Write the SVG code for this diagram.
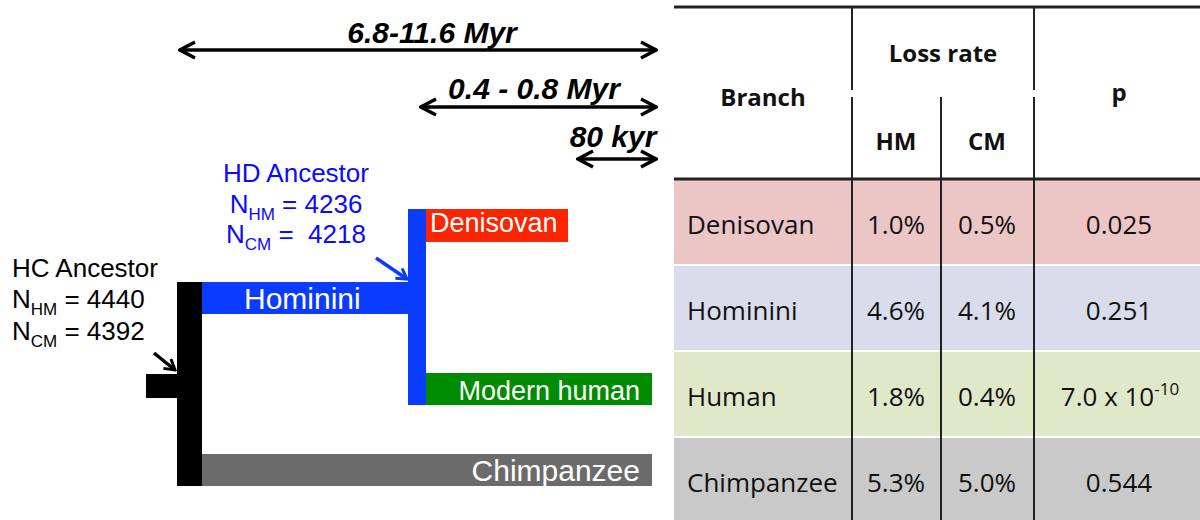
<svg xmlns="http://www.w3.org/2000/svg" width="1200" height="520" viewBox="0 0 1200 520">
<style>
.lbl{font-family:"Liberation Sans",Arial,sans-serif;}
.anc{font-size:26px;fill:#000;}
.hd{font-size:26px;fill:#0a0aff;}
.bar{font-size:27px;fill:#fff;}
.bar30{font-size:30px;fill:#fff;}
.time{font-size:30px;font-weight:bold;font-style:italic;fill:#000;}
.tbl{font-family:"Open Sans",Calibri,sans-serif;fill:#111;}
.th{font-size:24px;font-weight:bold;}
.td{font-size:26px;}
.sub{font-size:17px;}
.vline{stroke:#222;stroke-width:2;}
.tline{stroke:#222;stroke-width:3;}
.conn{fill:none;stroke-width:3.5;}
</style>
<defs>
<marker id="chev" viewBox="0 0 20 20" refX="18" refY="10" markerWidth="20" markerHeight="20" markerUnits="userSpaceOnUse" orient="auto-start-reverse">
<path d="M3,2 L18,10 L3,18" fill="none" stroke="#000" stroke-width="3.5" stroke-linejoin="miter"/>
</marker>
<marker id="hcHead" viewBox="0 0 14 14" refX="12" refY="7" markerWidth="14" markerHeight="14" markerUnits="userSpaceOnUse" orient="auto">
<path d="M2,1 L12,7 L2,13" fill="none" stroke="#000" stroke-width="3"/>
</marker>
<marker id="hdHead" viewBox="0 0 14 14" refX="12" refY="7" markerWidth="14" markerHeight="14" markerUnits="userSpaceOnUse" orient="auto">
<path d="M2,1 L12,7 L2,13" fill="none" stroke="#0a3cff" stroke-width="3"/>
</marker>
</defs>
<rect width="1200" height="520" fill="#fff"/>

<g id="timescales">
<line class="conn" x1="180" y1="50" x2="656" y2="50" stroke="#000" marker-start="url(#chev)" marker-end="url(#chev)"/>
<text class="lbl time" x="432" y="43" text-anchor="middle">6.8-11.6 Myr</text>
<line class="conn" x1="421" y1="107" x2="656" y2="107" stroke="#000" marker-start="url(#chev)" marker-end="url(#chev)"/>
<text class="lbl time" x="534" y="99" text-anchor="middle">0.4 - 0.8 Myr</text>
<line class="conn" x1="578" y1="159" x2="656" y2="159" stroke="#000" marker-start="url(#chev)" marker-end="url(#chev)"/>
<text class="lbl time" x="613" y="147" text-anchor="middle">80 kyr</text>
</g>

<g id="hc-ancestor">
<rect x="177" y="282" width="25" height="204" fill="#000"/>
<rect x="146" y="374" width="31" height="24" fill="#000"/>
<text class="lbl anc" x="12" y="277">HC Ancestor</text>
<text class="lbl anc" x="12" y="308">N<tspan class="sub" dy="7">HM</tspan><tspan dy="-7"> = 4440</tspan></text>
<text class="lbl anc" x="12" y="340">N<tspan class="sub" dy="7">CM</tspan><tspan dy="-7"> = 4392</tspan></text>
</g>

<g id="hominini">
<rect x="202" y="282" width="207" height="32" fill="#0a3cff"/>
<text class="lbl bar30" x="244" y="309">Hominini</text>
</g>

<g id="hd-ancestor">
<rect x="408" y="209" width="18" height="196" fill="#0a3cff"/>
<text class="lbl hd" x="296" y="182" text-anchor="middle">HD Ancestor</text>
<text class="lbl hd" x="296" y="213" text-anchor="middle">N<tspan class="sub" dy="7">HM</tspan><tspan dy="-7"> = 4236</tspan></text>
<text class="lbl hd" x="296" y="243" text-anchor="middle" xml:space="preserve">N<tspan class="sub" dy="7">CM</tspan><tspan dy="-7"> =  4218</tspan></text>
</g>

<g id="denisovan">
<rect x="426" y="209" width="142" height="33" fill="#ff2400"/>
<text class="lbl bar" x="430" y="232">Denisovan</text>
</g>

<g id="modern-human">
<rect x="426" y="373" width="226" height="32" fill="#008c00"/>
<text class="lbl bar" x="640" y="400" text-anchor="end">Modern human</text>
</g>

<g id="chimpanzee">
<rect x="202" y="454" width="450" height="32" fill="#6b6b6b"/>
<text class="lbl bar30" x="640" y="481" text-anchor="end">Chimpanzee</text>
</g>

<g id="connectors">
<line class="conn" x1="154" y1="353" x2="175" y2="370" stroke="#000" stroke-width="3" marker-end="url(#hcHead)"/>
<line class="conn" x1="376" y1="258" x2="407" y2="279" stroke="#0a3cff" stroke-width="3" marker-end="url(#hdHead)"/>
</g>

<g id="table">
<rect x="674" y="180" width="526" height="84" fill="#ecc5c5"/>
<rect x="674" y="266" width="526" height="84" fill="#d9dcea"/>
<rect x="674" y="352" width="526" height="84" fill="#dfe8c8"/>
<rect x="674" y="438" width="526" height="82" fill="#c9c9c9"/>
<line class="tline" x1="674" y1="7" x2="1200" y2="7" stroke-width="2.5"/>
<line class="tline" x1="674" y1="179" x2="1200" y2="179"/>
<line class="vline" x1="852" y1="7" x2="852" y2="90"/>
<line class="vline" x1="852" y1="97" x2="852" y2="520"/>
<line class="vline" x1="1034" y1="7" x2="1034" y2="90"/>
<line class="vline" x1="1034" y1="97" x2="1034" y2="520"/>
<line class="vline" x1="941" y1="97" x2="941" y2="520"/>
<text class="tbl th" x="763" y="106" text-anchor="middle">Branch</text>
<text class="tbl th" x="943" y="62" text-anchor="middle">Loss rate</text>
<text class="tbl th" x="896" y="150" text-anchor="middle">HM</text>
<text class="tbl th" x="987" y="150" text-anchor="middle">CM</text>
<text class="tbl th" x="1119" y="101" text-anchor="middle">p</text>

<text class="tbl td" x="687" y="234">Denisovan</text>
<text class="tbl td" x="896" y="234" text-anchor="middle">1.0%</text>
<text class="tbl td" x="987" y="234" text-anchor="middle">0.5%</text>
<text class="tbl td" x="1119" y="234" text-anchor="middle">0.025</text>

<text class="tbl td" x="687" y="320">Hominini</text>
<text class="tbl td" x="896" y="320" text-anchor="middle">4.6%</text>
<text class="tbl td" x="987" y="320" text-anchor="middle">4.1%</text>
<text class="tbl td" x="1119" y="320" text-anchor="middle">0.251</text>

<text class="tbl td" x="687" y="406">Human</text>
<text class="tbl td" x="896" y="406" text-anchor="middle">1.8%</text>
<text class="tbl td" x="987" y="406" text-anchor="middle">0.4%</text>
<text class="tbl td" x="1120" y="406" text-anchor="middle">7.0 x 10<tspan class="sub" dy="-11">-10</tspan></text>

<text class="tbl td" x="687" y="492">Chimpanzee</text>
<text class="tbl td" x="896" y="492" text-anchor="middle">5.3%</text>
<text class="tbl td" x="987" y="492" text-anchor="middle">5.0%</text>
<text class="tbl td" x="1119" y="492" text-anchor="middle">0.544</text>
</g>
</svg>
